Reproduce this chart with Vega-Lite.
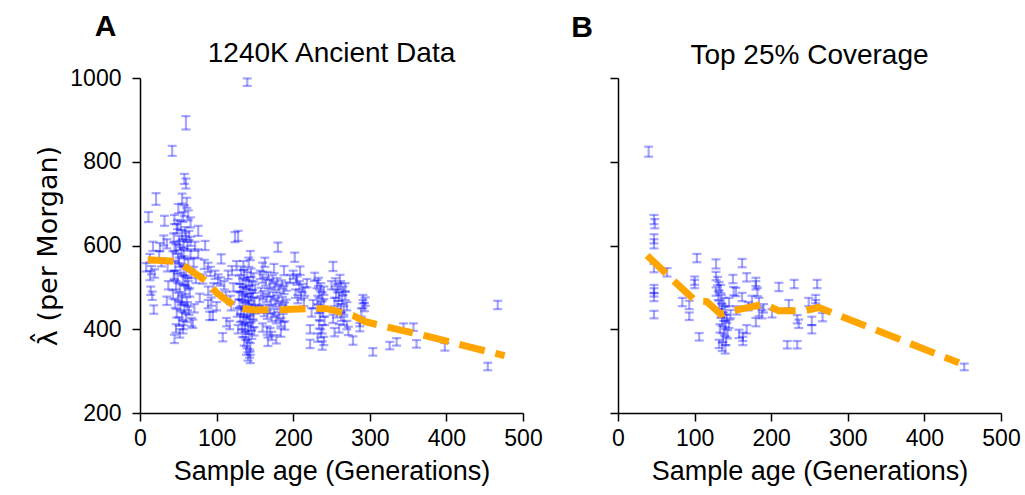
{
  "$schema": "https://vega.github.io/schema/vega-lite/v6.json",
  "background": "white",
  "padding": {"left": 34, "top": 12, "right": 5, "bottom": 3},
  "config": {
    "view": {"stroke": null},
    "font": "Liberation Sans",
    "axis": {"grid": false, "domainColor": "black", "domainWidth": 1.5, "tickColor": "black", "tickWidth": 1.5, "tickSize": 8, "labelFontSize": 23, "labelColor": "black", "titleFontSize": 27, "titleFontWeight": "normal", "titleColor": "black", "labelPadding": 6, "titlePadding": 8, "labelFlush": false, "labelOverlap": false, "format": "d"},
    "axisY": {"labelPadding": 11, "titlePadding": 7},
    "title": {"fontSize": 28, "fontWeight": "normal", "color": "black"},
    "concat": {"spacing": 28}
  },
  "datasets": {
    "A": [
      {"x":11,"y":668,"e":12},{"x":21,"y":711,"e":14},{"x":32,"y":659,"e":12},{"x":31,"y":612,"e":12},{"x":35,"y":604,"e":11},{"x":17,"y":598,"e":11},{"x":25,"y":577,"e":10},{"x":13,"y":570,"e":10},{"x":28,"y":560,"e":10},{"x":15,"y":541,"e":10},{"x":13,"y":528,"e":11},{"x":19,"y":533,"e":10},{"x":36,"y":548,"e":10},{"x":14,"y":492,"e":10},{"x":16,"y":480,"e":10},{"x":18,"y":447,"e":10},{"x":35,"y":468,"e":10},{"x":37,"y":505,"e":10},{"x":42,"y":826,"e":12},{"x":26,"y":596,"e":10},{"x":8,"y":548,"e":10},
      {"x":60,"y":893,"e":16},{"x":58,"y":759,"e":12},{"x":60,"y":748,"e":12},{"x":58,"y":683,"e":13},{"x":61,"y":702,"e":12},{"x":55,"y":712,"e":12},{"x":50,"y":688,"e":11},{"x":56,"y":668,"e":12},{"x":63,"y":672,"e":12},{"x":45,"y":662,"e":11},{"x":53,"y":648,"e":11},{"x":66,"y":655,"e":12},{"x":48,"y":640,"e":11},{"x":59,"y":633,"e":11},{"x":64,"y":624,"e":11},{"x":44,"y":618,"e":11},{"x":51,"y":612,"e":11},{"x":57,"y":605,"e":11},{"x":62,"y":598,"e":11},{"x":47,"y":592,"e":11},{"x":54,"y":585,"e":11},{"x":66,"y":580,"e":11},{"x":43,"y":575,"e":11},{"x":50,"y":569,"e":11},{"x":58,"y":563,"e":11},{"x":63,"y":556,"e":11},{"x":46,"y":551,"e":11},{"x":53,"y":545,"e":11},{"x":60,"y":539,"e":11},{"x":67,"y":533,"e":11},{"x":44,"y":528,"e":11},{"x":49,"y":522,"e":11},{"x":56,"y":517,"e":11},{"x":62,"y":511,"e":11},{"x":47,"y":505,"e":10},{"x":52,"y":499,"e":10},{"x":59,"y":494,"e":10},{"x":65,"y":488,"e":10},{"x":43,"y":483,"e":10},{"x":50,"y":477,"e":10},{"x":55,"y":472,"e":10},{"x":61,"y":466,"e":10},{"x":46,"y":461,"e":10},{"x":53,"y":455,"e":10},{"x":58,"y":449,"e":10},{"x":64,"y":444,"e":10},{"x":48,"y":438,"e":10},{"x":55,"y":432,"e":10},{"x":60,"y":427,"e":10},{"x":51,"y":418,"e":10},{"x":57,"y":410,"e":10},{"x":47,"y":402,"e":10},{"x":56,"y":400,"e":10},{"x":45,"y":377,"e":10},{"x":67,"y":417,"e":10},{"x":52,"y":390,"e":10},{"x":62,"y":455,"e":10},{"x":45,"y":530,"e":10},{"x":57,"y":540,"e":11},{"x":52,"y":600,"e":11},{"x":60,"y":620,"e":11},{"x":49,"y":650,"e":11},{"x":57,"y":580,"e":11},{"x":63,"y":505,"e":10},{"x":54,"y":468,"e":10},{"x":59,"y":515,"e":10},{"x":45,"y":598,"e":11},{"x":66,"y":610,"e":11},{"x":51,"y":560,"e":11},{"x":55,"y":625,"e":11},
      {"x":76,"y":635,"e":12},{"x":76,"y":580,"e":11},{"x":72,"y":598,"e":11},{"x":89,"y":548,"e":11},{"x":92,"y":538,"e":11},{"x":106,"y":568,"e":11},{"x":102,"y":520,"e":11},{"x":105,"y":514,"e":10},{"x":89,"y":492,"e":10},{"x":89,"y":460,"e":10},{"x":93,"y":466,"e":10},{"x":95,"y":432,"e":10},{"x":108,"y":381,"e":10},{"x":113,"y":417,"e":10},{"x":117,"y":410,"e":10},{"x":124,"y":620,"e":12},{"x":128,"y":623,"e":12},{"x":110,"y":505,"e":10},{"x":118,"y":470,"e":10},{"x":120,"y":540,"e":11},{"x":100,"y":455,"e":10},{"x":82,"y":520,"e":11},{"x":96,"y":500,"e":10},{"x":85,"y":600,"e":11},{"x":70,"y":560,"e":11},{"x":73,"y":520,"e":10},{"x":78,"y":475,"e":10},{"x":69,"y":413,"e":10},{"x":91,"y":432,"e":10},{"x":84,"y":555,"e":11},{"x":98,"y":530,"e":10},{"x":112,"y":480,"e":10},{"x":122,"y":500,"e":10},{"x":119,"y":455,"e":10},{"x":126,"y":552,"e":11},{"x":71,"y":450,"e":10},{"x":115,"y":530,"e":10},
      {"x":140,"y":990,"e":9},{"x":144,"y":576,"e":11},{"x":135,"y":552,"e":11},{"x":142,"y":560,"e":11},{"x":132,"y":540,"e":10},{"x":136,"y":532,"e":10},{"x":140,"y":527,"e":10},{"x":145,"y":535,"e":10},{"x":148,"y":524,"e":10},{"x":130,"y":518,"e":10},{"x":134,"y":511,"e":10},{"x":138,"y":507,"e":10},{"x":142,"y":514,"e":10},{"x":146,"y":504,"e":10},{"x":150,"y":497,"e":10},{"x":131,"y":498,"e":10},{"x":135,"y":491,"e":10},{"x":139,"y":487,"e":10},{"x":143,"y":494,"e":10},{"x":147,"y":484,"e":10},{"x":133,"y":480,"e":10},{"x":137,"y":474,"e":10},{"x":141,"y":469,"e":10},{"x":145,"y":477,"e":10},{"x":149,"y":467,"e":10},{"x":130,"y":462,"e":10},{"x":134,"y":457,"e":10},{"x":138,"y":454,"e":10},{"x":142,"y":460,"e":10},{"x":146,"y":451,"e":10},{"x":150,"y":447,"e":10},{"x":132,"y":445,"e":10},{"x":136,"y":439,"e":10},{"x":140,"y":435,"e":10},{"x":144,"y":441,"e":10},{"x":148,"y":431,"e":10},{"x":131,"y":427,"e":10},{"x":135,"y":423,"e":10},{"x":139,"y":419,"e":10},{"x":143,"y":425,"e":10},{"x":147,"y":414,"e":10},{"x":133,"y":409,"e":10},{"x":137,"y":404,"e":10},{"x":141,"y":399,"e":10},{"x":145,"y":407,"e":10},{"x":149,"y":395,"e":10},{"x":134,"y":391,"e":10},{"x":138,"y":385,"e":10},{"x":142,"y":379,"e":10},{"x":146,"y":387,"e":10},{"x":136,"y":371,"e":10},{"x":140,"y":364,"e":10},{"x":144,"y":357,"e":10},{"x":139,"y":349,"e":10},{"x":143,"y":342,"e":10},{"x":141,"y":335,"e":10},{"x":144,"y":329,"e":10},{"x":127,"y":440,"e":10},{"x":128,"y":400,"e":10},{"x":129,"y":480,"e":10},
      {"x":163,"y":560,"e":11},{"x":180,"y":596,"e":11},{"x":175,"y":545,"e":11},{"x":188,"y":540,"e":11},{"x":160,"y":548,"e":11},{"x":157,"y":530,"e":10},{"x":160,"y":521,"e":10},{"x":164,"y":514,"e":10},{"x":167,"y":527,"e":10},{"x":170,"y":509,"e":10},{"x":173,"y":519,"e":10},{"x":176,"y":504,"e":10},{"x":179,"y":512,"e":10},{"x":182,"y":497,"e":10},{"x":185,"y":507,"e":10},{"x":188,"y":494,"e":10},{"x":191,"y":502,"e":10},{"x":158,"y":489,"e":10},{"x":161,"y":481,"e":10},{"x":165,"y":475,"e":10},{"x":168,"y":487,"e":10},{"x":171,"y":469,"e":10},{"x":174,"y":479,"e":10},{"x":177,"y":464,"e":10},{"x":180,"y":471,"e":10},{"x":183,"y":457,"e":10},{"x":186,"y":467,"e":10},{"x":189,"y":454,"e":10},{"x":191,"y":461,"e":10},{"x":159,"y":449,"e":10},{"x":162,"y":441,"e":10},{"x":166,"y":435,"e":10},{"x":169,"y":447,"e":10},{"x":172,"y":429,"e":10},{"x":175,"y":439,"e":10},{"x":178,"y":424,"e":10},{"x":181,"y":431,"e":10},{"x":184,"y":417,"e":10},{"x":187,"y":427,"e":10},{"x":189,"y":409,"e":10},{"x":160,"y":404,"e":10},{"x":166,"y":397,"e":10},{"x":172,"y":384,"e":10},{"x":178,"y":376,"e":10},{"x":184,"y":392,"e":10},{"x":167,"y":370,"e":10},{"x":170,"y":393,"e":10},{"x":156,"y":465,"e":10},
      {"x":202,"y":572,"e":11},{"x":205,"y":516,"e":10},{"x":200,"y":530,"e":10},{"x":204,"y":521,"e":10},{"x":208,"y":505,"e":10},{"x":212,"y":498,"e":10},{"x":215,"y":490,"e":10},{"x":210,"y":480,"e":10},{"x":206,"y":472,"e":10},{"x":214,"y":465,"e":10},{"x":218,"y":510,"e":10},{"x":203,"y":485,"e":10},{"x":209,"y":540,"e":10},{"x":196,"y":520,"e":10},
      {"x":222,"y":400,"e":10},{"x":222,"y":365,"e":10},{"x":238,"y":361,"e":10},{"x":231,"y":508,"e":10},{"x":233,"y":513,"e":10},{"x":236,"y":500,"e":10},{"x":240,"y":492,"e":10},{"x":234,"y":485,"e":10},{"x":238,"y":478,"e":10},{"x":232,"y":470,"e":10},{"x":240,"y":462,"e":10},{"x":236,"y":455,"e":10},{"x":233,"y":448,"e":10},{"x":239,"y":440,"e":10},{"x":235,"y":430,"e":10},{"x":241,"y":420,"e":10},{"x":234,"y":412,"e":10},{"x":238,"y":400,"e":10},{"x":236,"y":390,"e":10},{"x":232,"y":380,"e":10},{"x":240,"y":372,"e":10},{"x":228,"y":525,"e":10},{"x":226,"y":460,"e":10},{"x":224,"y":440,"e":10},
      {"x":252,"y":550,"e":11},{"x":261,"y":520,"e":10},{"x":254,"y":393,"e":10},{"x":250,"y":505,"e":10},{"x":255,"y":512,"e":10},{"x":258,"y":498,"e":10},{"x":262,"y":505,"e":10},{"x":265,"y":492,"e":10},{"x":268,"y":500,"e":10},{"x":256,"y":485,"e":10},{"x":260,"y":478,"e":10},{"x":264,"y":470,"e":10},{"x":268,"y":480,"e":10},{"x":254,"y":465,"e":10},{"x":258,"y":458,"e":10},{"x":262,"y":450,"e":10},{"x":266,"y":445,"e":10},{"x":270,"y":455,"e":10},{"x":257,"y":438,"e":10},{"x":263,"y":430,"e":10},{"x":252,"y":425,"e":10},{"x":272,"y":396,"e":10},{"x":270,"y":410,"e":10},{"x":266,"y":420,"e":10},{"x":260,"y":402,"e":10},
      {"x":291,"y":472,"e":10},{"x":291,"y":460,"e":10},{"x":293,"y":453,"e":10},{"x":287,"y":417,"e":10},{"x":287,"y":405,"e":10},{"x":278,"y":373,"e":10},{"x":294,"y":466,"e":10},{"x":289,"y":440,"e":10},
      {"x":304,"y":346,"e":9},{"x":326,"y":361,"e":9},{"x":335,"y":370,"e":9},{"x":344,"y":405,"e":9},{"x":357,"y":405,"e":9},{"x":361,"y":365,"e":9},{"x":398,"y":358,"e":9},{"x":467,"y":458,"e":10},{"x":454,"y":311,"e":9}
    ],
    "B": [
      {"x":40,"y":824,"e":12},{"x":47,"y":662,"e":11},{"x":48,"y":652,"e":11},{"x":47,"y":616,"e":11},{"x":47,"y":604,"e":11},{"x":47,"y":546,"e":10},{"x":47,"y":496,"e":10},{"x":47,"y":488,"e":10},{"x":47,"y":477,"e":10},{"x":47,"y":435,"e":9},{"x":64,"y":536,"e":10},{"x":103,"y":570,"e":10},{"x":100,"y":516,"e":10},{"x":100,"y":508,"e":10},{"x":84,"y":465,"e":10},{"x":93,"y":458,"e":10},{"x":93,"y":431,"e":9},{"x":106,"y":382,"e":9},{"x":128,"y":556,"e":11},{"x":128,"y":527,"e":10},{"x":130,"y":515,"e":10},{"x":132,"y":503,"e":10},{"x":134,"y":496,"e":10},{"x":128,"y":490,"e":10},{"x":131,"y":480,"e":10},{"x":135,"y":472,"e":10},{"x":138,"y":465,"e":10},{"x":132,"y":458,"e":10},{"x":136,"y":450,"e":10},{"x":140,"y":444,"e":10},{"x":134,"y":438,"e":10},{"x":138,"y":430,"e":10},{"x":142,"y":425,"e":10},{"x":136,"y":418,"e":10},{"x":140,"y":410,"e":10},{"x":133,"y":402,"e":10},{"x":139,"y":395,"e":10},{"x":143,"y":388,"e":10},{"x":137,"y":380,"e":10},{"x":141,"y":372,"e":10},{"x":132,"y":365,"e":10},{"x":136,"y":358,"e":10},{"x":140,"y":352,"e":10},{"x":145,"y":465,"e":10},{"x":147,"y":436,"e":10},{"x":145,"y":413,"e":10},{"x":151,"y":491,"e":10},{"x":162,"y":558,"e":10},{"x":168,"y":524,"e":10},{"x":180,"y":513,"e":10},{"x":182,"y":489,"e":10},{"x":184,"y":465,"e":10},{"x":184,"y":441,"e":10},{"x":180,"y":505,"e":10},{"x":154,"y":489,"e":10},{"x":162,"y":477,"e":10},{"x":163,"y":382,"e":10},{"x":163,"y":372,"e":10},{"x":168,"y":400,"e":10},{"x":158,"y":389,"e":10},{"x":180,"y":417,"e":10},{"x":188,"y":436,"e":10},{"x":201,"y":438,"e":10},{"x":210,"y":501,"e":10},{"x":230,"y":508,"e":10},{"x":223,"y":460,"e":10},{"x":234,"y":424,"e":10},{"x":236,"y":413,"e":10},{"x":221,"y":363,"e":9},{"x":234,"y":363,"e":9},{"x":260,"y":508,"e":10},{"x":258,"y":472,"e":10},{"x":258,"y":460,"e":10},{"x":249,"y":465,"e":10},{"x":253,"y":420,"e":10},{"x":253,"y":400,"e":10},{"x":267,"y":429,"e":10},{"x":452,"y":310,"e":8},{"x":190,"y":450,"e":10},{"x":170,"y":455,"e":10},{"x":175,"y":470,"e":10},{"x":150,"y":520,"e":10},{"x":155,"y":445,"e":10}
    ],
    "LA": [
      {"x":10,"y":566},{"x":46,"y":562},{"x":61,"y":547},{"x":87,"y":514},{"x":100,"y":487},{"x":127,"y":451},{"x":150,"y":446},{"x":190,"y":447},{"x":228,"y":450},{"x":244,"y":449},{"x":278,"y":433},{"x":294,"y":418},{"x":326,"y":404},{"x":376,"y":383},{"x":427,"y":359},{"x":476,"y":337}
    ],
    "LB": [
      {"x":38,"y":576},{"x":75,"y":512},{"x":101,"y":468},{"x":116,"y":466},{"x":134,"y":436},{"x":142,"y":442},{"x":160,"y":448},{"x":191,"y":460},{"x":210,"y":444},{"x":243,"y":444},{"x":262,"y":452},{"x":445,"y":320}
    ]
  },
  "hconcat": [
    {
      "title": {"text": "A", "anchor": "start", "fontSize": 30, "fontWeight": "bold", "dx": 60, "offset": -2},
      "vconcat": [
        {
          "width": 383, "height": 335,
          "title": {"text": "1240K Ancient Data", "offset": -1, "frame": "group"},
          "layer": [
            {
              "data": {"name": "A"},
              "mark": {"type": "errorbar", "ticks": {"size": 9, "thickness": 2.2}, "thickness": 2.2, "color": "#0000ff", "opacity": 0.35},
              "encoding": {
                "x": {"field": "x", "type": "quantitative", "scale": {"domain": [0, 500], "nice": false}, "axis": {"values": [0, 100, 200, 300, 400, 500], "title": "Sample age (Generations)"}},
                "y": {"field": "y", "type": "quantitative", "scale": {"domain": [200, 1000], "nice": false}, "axis": {"values": [200, 400, 600, 800, 1000], "title": "\u03bb\u0302 (per Morgan)", "titleFont": "DejaVu Sans", "titleFontSize": 27}},
                "yError": {"field": "e"}
              }
            },
            {
              "data": {"name": "LA"},
              "mark": {"type": "line", "color": "#ffa500", "strokeWidth": 7, "strokeDash": [26, 11], "strokeCap": "butt"},
              "encoding": {
                "x": {"field": "x", "type": "quantitative"},
                "y": {"field": "y", "type": "quantitative"}
              }
            }
          ]
        }
      ]
    },
    {
      "title": {"text": "B", "anchor": "start", "fontSize": 30, "fontWeight": "bold", "dx": -38, "offset": -1},
      "vconcat": [
        {
          "width": 383, "height": 335,
          "title": {"text": "Top 25% Coverage", "offset": 7, "frame": "group"},
          "layer": [
            {
              "data": {"name": "B"},
              "mark": {"type": "errorbar", "ticks": {"size": 9, "thickness": 2.2}, "thickness": 2.2, "color": "#0000ff", "opacity": 0.35},
              "encoding": {
                "x": {"field": "x", "type": "quantitative", "scale": {"domain": [0, 500], "nice": false}, "axis": {"values": [0, 100, 200, 300, 400, 500], "title": "Sample age (Generations)"}},
                "y": {"field": "y", "type": "quantitative", "scale": {"domain": [200, 1000], "nice": false}, "axis": {"values": [200, 400, 600, 800, 1000], "labels": false, "title": null}},
                "yError": {"field": "e"}
              }
            },
            {
              "data": {"name": "LB"},
              "mark": {"type": "line", "color": "#ffa500", "strokeWidth": 7, "strokeDash": [26, 11], "strokeCap": "butt"},
              "encoding": {
                "x": {"field": "x", "type": "quantitative"},
                "y": {"field": "y", "type": "quantitative"}
              }
            }
          ]
        }
      ]
    }
  ]
}
